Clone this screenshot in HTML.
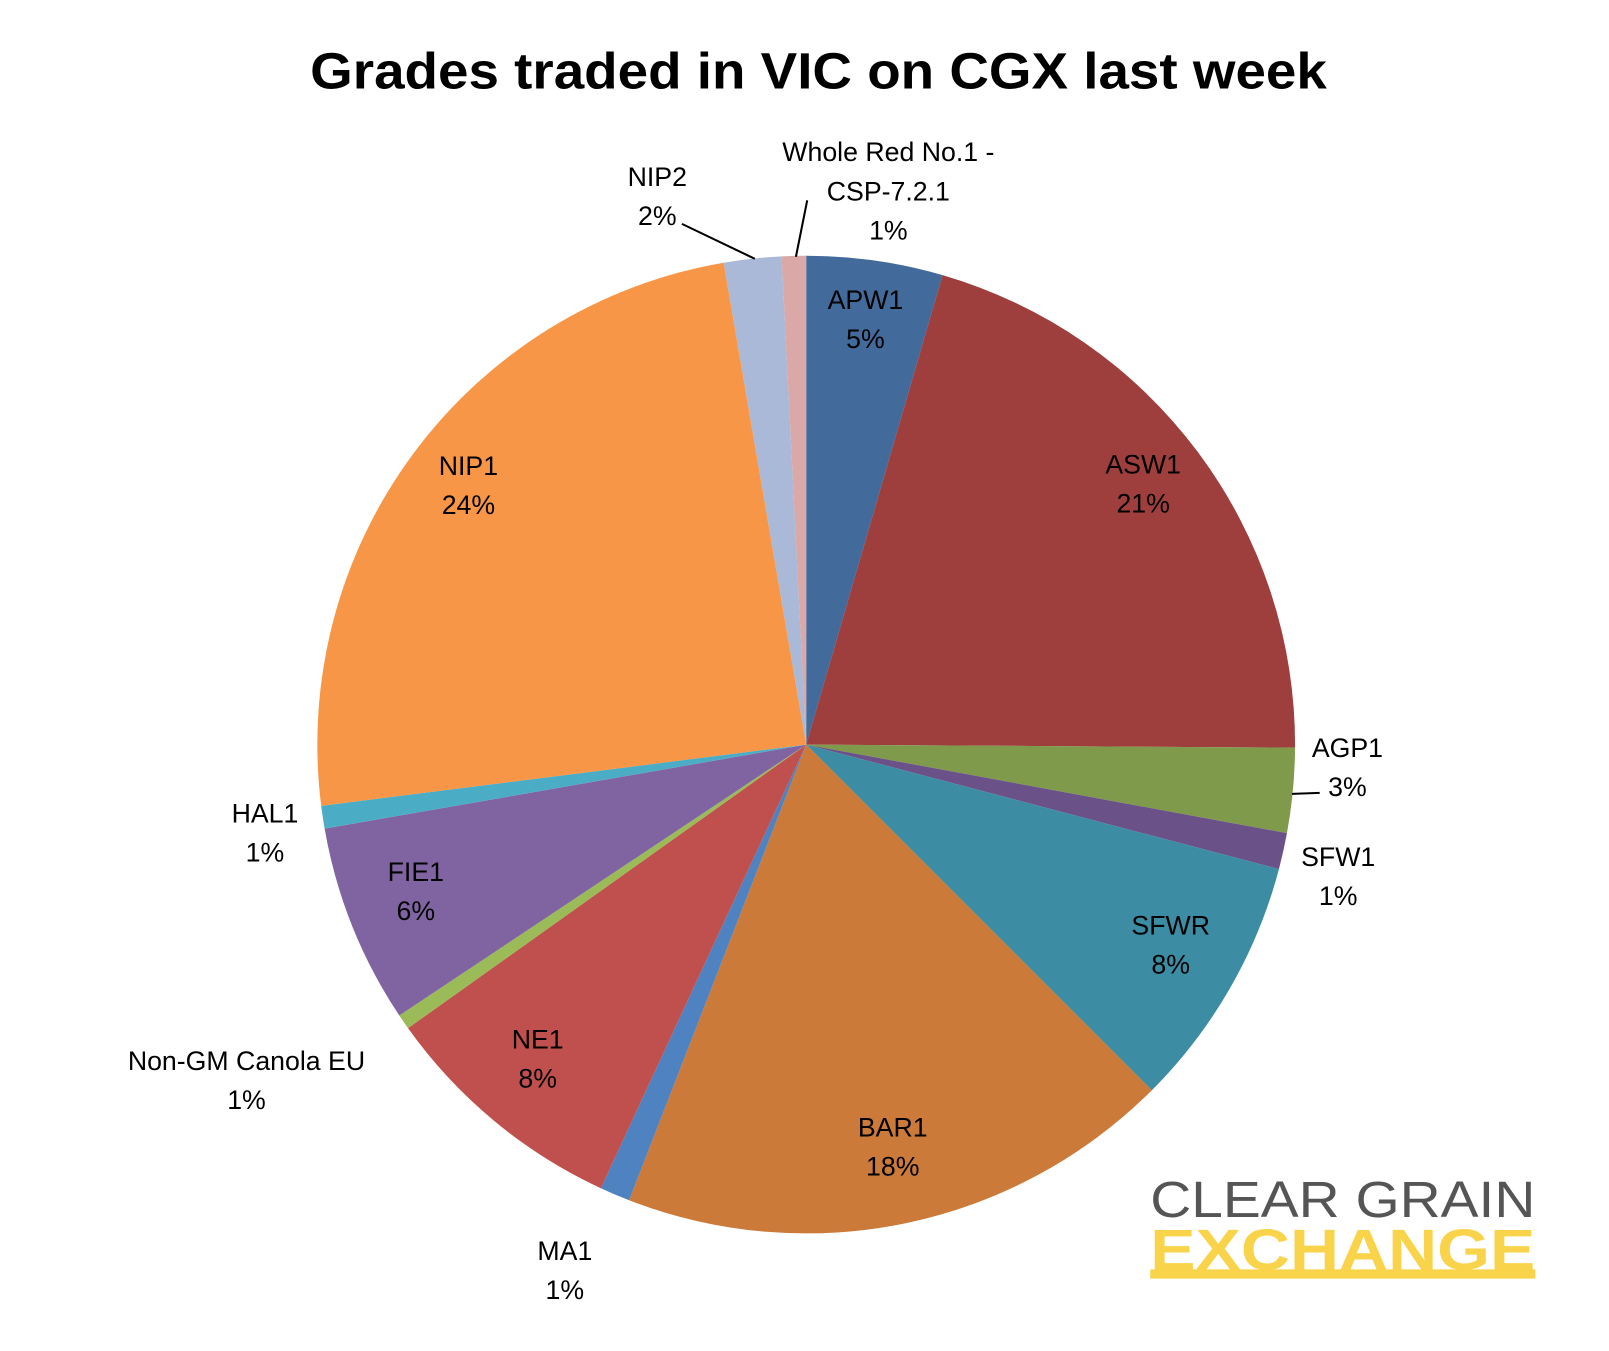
<!DOCTYPE html>
<html><head><meta charset="utf-8"><style>
html,body{margin:0;padding:0;background:#fff;}
svg{display:block;font-family:"Liberation Sans",sans-serif;}
</style></head><body>
<svg id="chart" width="1609" height="1351" viewBox="0 0 1609 1351" xmlns="http://www.w3.org/2000/svg">
<rect width="1609" height="1351" fill="#fff"/>
<g transform="scale(1.027)">
<text x="797" y="86" text-anchor="middle" font-size="50" font-weight="bold" fill="#000" textLength="990" lengthAdjust="spacingAndGlyphs">Grades traded in VIC on CGX last week</text>
<g id="slices"></g>
<g id="labels" font-size="26" fill="#000"></g>
<g>
<text x="1120" y="1185" font-size="50" fill="#555" textLength="375" lengthAdjust="spacingAndGlyphs">CLEAR GRAIN</text>
<rect x="1120" y="1236" width="375" height="9" fill="#f9d44a"/>
<text x="1120" y="1236" font-size="56" font-weight="bold" fill="#f9d44a" textLength="375" lengthAdjust="spacingAndGlyphs">EXCHANGE</text>
</g>
</g>
</svg>
<script>
const categories = ["APW1","ASW1","AGP1","SFW1","SFWR","BAR1","MA1","NE1","Non-GM Canola EU","FIE1","HAL1","NIP1","NIP2","Whole Red No.1 - CSP-7.2.1"];
const values = [4.5,20.6,2.8,1.2,8.4,18.4,1.0,8.25,0.5,6.6,0.75,24.3,1.9,0.8];
const pctLabels = ["5%","21%","3%","1%","8%","18%","1%","8%","1%","6%","1%","24%","2%","1%"];
const colors = ["#426a9b","#9e3f3e","#7f9a4a","#6a5188","#3c8ca3","#cb7a39","#4f82c0","#c0504d","#9bbb59","#8064a2","#4bacc6","#f79646","#aab9d7","#d9a8a7"];
const NS="http://www.w3.org/2000/svg";
const cx=785, cy=725, R=476;
const total=values.reduce((a,b)=>a+b,0);
function pt(a,r){return [cx+r*Math.sin(a), cy-r*Math.cos(a)];}
const sg=document.getElementById('slices'), lg=document.getElementById('labels');
const outside={2:{lines:["AGP1","3%"],x:1312,y:728,lead:[1258,773,1285,772]},
 3:{lines:["SFW1","1%"],x:1303,y:834},
 6:{lines:["MA1","1%"],x:550,y:1218},
 8:{lines:["Non-GM Canola EU","1%"],x:240,y:1033},
 10:{lines:["HAL1","1%"],x:258,y:792},
 12:{lines:["NIP2","2%"],x:640,y:172,lead:[664,218,735,252]},
 13:{lines:["Whole Red No.1 -","CSP-7.2.1","1%"],x:865,y:148,lead:[786,195,775,250]}};
let acc=0;
values.forEach((v,i)=>{
  const a0=acc/total*2*Math.PI; acc+=v; const a1=acc/total*2*Math.PI;
  const p0=pt(a0,R), p1=pt(a1,R), large=(a1-a0)>Math.PI?1:0;
  const p=document.createElementNS(NS,'path');
  p.setAttribute('d',`M${cx},${cy}L${p0[0]},${p0[1]}A${R},${R} 0 ${large} 1 ${p1[0]},${p1[1]}Z`);
  p.setAttribute('fill',colors[i]);
  
  
  sg.appendChild(p);
  let lines,x,y;
  if(outside[i]){
    const o=outside[i]; lines=o.lines.slice(); lines[lines.length-1]=pctLabels[i]; x=o.x; y=o.y;
    if(o.lead){const l=document.createElementNS(NS,'polyline');
      l.setAttribute('points',o.lead.join(','));
      l.setAttribute('fill','none');l.setAttribute('stroke','#000');l.setAttribute('stroke-width','2');
      
      
      lg.appendChild(l);}
  } else {
    const m=(a0+a1)/2, q=pt(m,R*0.86); lines=[categories[i],pctLabels[i]]; x=q[0]; y=q[1]-28;
  }
  const t=document.createElementNS(NS,'text');
  t.setAttribute('text-anchor','middle');
  
  
  lines.forEach((s,k)=>{const ts=document.createElementNS(NS,'tspan');ts.setAttribute('x',x);ts.setAttribute('y',y+9+k*38);ts.textContent=s;t.appendChild(ts);});
  lg.appendChild(t);
});
</script>
</body></html>
